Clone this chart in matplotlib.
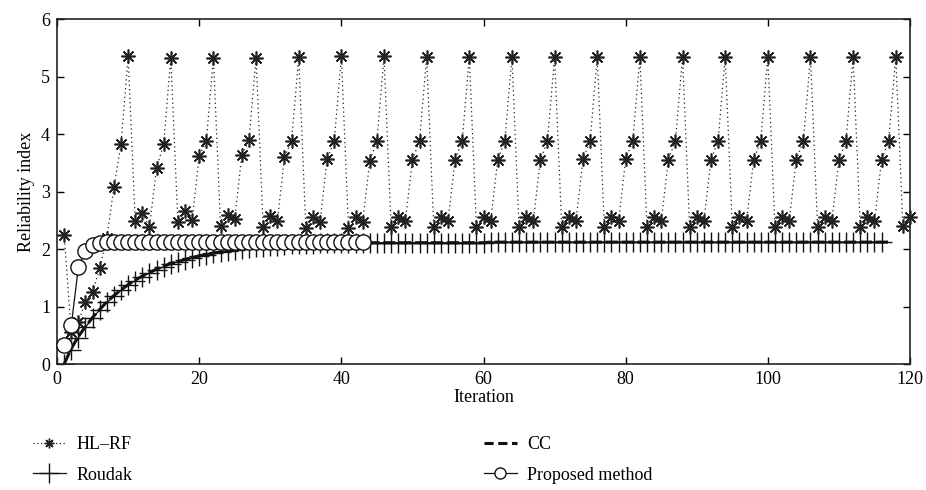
import matplotlib
matplotlib.use("Agg")
import matplotlib.pyplot as plt
from matplotlib.lines import Line2D

plt.rcParams["font.family"] = ["Liberation Serif", "DejaVu Serif"]
plt.rcParams["font.size"] = 12

# =========================
# data
# =========================
hlrf_y = [
    2.25, 0.55, 0.73, 1.08, 1.25, 1.67, 2.20, 3.07, 3.82, 5.35,
    2.48, 2.63, 2.38, 3.41, 3.82, 5.33, 2.47, 2.66, 2.50, 3.62,
    3.87, 5.33, 2.40, 2.59, 2.52, 3.64, 3.89, 5.33, 2.38, 2.57,
    2.49, 3.60, 3.88, 5.34, 2.37, 2.55, 2.47, 3.56, 3.88, 5.35,
    2.37, 2.56, 2.47, 3.53, 3.88, 5.35, 2.38, 2.56, 2.48, 3.55,
    3.88, 5.34, 2.38, 2.56, 2.48, 3.55, 3.88, 5.34, 2.38, 2.56,
    2.48, 3.55, 3.88, 5.34, 2.38, 2.56, 2.48, 3.55, 3.88, 5.34,
    2.38, 2.56, 2.48, 3.56, 3.88, 5.34, 2.38, 2.56, 2.48, 3.56,
    3.88, 5.34, 2.38, 2.56, 2.48, 3.55, 3.88, 5.34, 2.38, 2.56,
    2.48, 3.55, 3.88, 5.34, 2.38, 2.56, 2.48, 3.55, 3.88, 5.34,
    2.38, 2.56, 2.48, 3.55, 3.88, 5.34, 2.38, 2.56, 2.48, 3.55,
    3.88, 5.34, 2.38, 2.56, 2.48, 3.55, 3.88, 5.34, 2.40, 2.56,
]
hlrf_x = list(range(1, len(hlrf_y) + 1))

roudak_y = [
    0.00, 0.25, 0.46, 0.64, 0.80, 0.94, 1.07, 1.18, 1.28, 1.37,
    1.45, 1.52, 1.58, 1.64, 1.69, 1.74, 1.78, 1.81, 1.85, 1.88,
    1.90, 1.93, 1.95, 1.97, 1.99, 2.00, 2.02, 2.03, 2.04, 2.05,
    2.06, 2.07, 2.08, 2.08, 2.09, 2.09, 2.10, 2.10, 2.10, 2.11,
    2.11, 2.11, 2.11, 2.11, 2.11, 2.11, 2.11, 2.11, 2.11, 2.11,
    2.11, 2.11, 2.11, 2.11, 2.11, 2.11, 2.11, 2.11, 2.11, 2.11,
    2.12, 2.12, 2.12, 2.12, 2.12, 2.12, 2.12, 2.12, 2.12, 2.12,
    2.12, 2.12, 2.12, 2.12, 2.12, 2.12, 2.12, 2.12, 2.12, 2.12,
    2.12, 2.12, 2.12, 2.12, 2.12, 2.12, 2.12, 2.12, 2.12, 2.12,
    2.12, 2.12, 2.12, 2.12, 2.12, 2.12, 2.12, 2.12, 2.12, 2.12,
    2.12, 2.12, 2.12, 2.12, 2.12, 2.12, 2.12, 2.12, 2.12, 2.12,
    2.12, 2.12, 2.12, 2.12, 2.12, 2.12,
]
roudak_x = list(range(1, len(roudak_y) + 1))

cc_y = [
    0.00, 0.27, 0.48, 0.65, 0.81, 0.95, 1.08, 1.19, 1.29, 1.38,
    1.46, 1.53, 1.59, 1.65, 1.70, 1.75, 1.78, 1.82, 1.85, 1.88,
    1.91, 1.93, 1.95, 1.97, 1.99, 2.01, 2.02, 2.03, 2.04, 2.05,
    2.06, 2.07, 2.08, 2.08, 2.09, 2.09, 2.10, 2.10, 2.10, 2.11,
    2.11, 2.11, 2.11, 2.11, 2.11, 2.11, 2.11, 2.11, 2.11, 2.11,
    2.11, 2.11, 2.11, 2.11, 2.11, 2.11, 2.11, 2.11, 2.11, 2.11,
    2.12, 2.12, 2.12, 2.12, 2.12, 2.12, 2.12, 2.12, 2.12, 2.12,
    2.12, 2.12, 2.12, 2.12, 2.12, 2.12, 2.12, 2.12, 2.12, 2.12,
    2.12, 2.12, 2.12, 2.12, 2.12, 2.12, 2.12, 2.12, 2.12, 2.12,
    2.12, 2.12, 2.12, 2.12, 2.12, 2.12, 2.12, 2.12, 2.12, 2.12,
    2.12, 2.12, 2.12, 2.12, 2.12, 2.12, 2.12, 2.12, 2.12, 2.12,
    2.12, 2.12, 2.12, 2.12, 2.12, 2.12, 2.12,
]
cc_x = list(range(1, len(cc_y) + 1))

proposed_y = [
    0.33, 0.67, 1.68, 1.97, 2.07, 2.10, 2.12, 2.13, 2.13, 2.13,
    2.13, 2.13, 2.13, 2.13, 2.13, 2.13, 2.13, 2.13, 2.13, 2.13,
    2.13, 2.13, 2.13, 2.13, 2.13, 2.13, 2.13, 2.13, 2.13, 2.13,
    2.13, 2.13, 2.13, 2.13, 2.13, 2.13, 2.13, 2.13, 2.13, 2.13,
    2.13, 2.13, 2.13,
]
proposed_x = list(range(1, len(proposed_y) + 1))

x_ticks = [0, 20, 40, 60, 80, 100, 120]
y_ticks = [0, 1, 2, 3, 4, 5, 6]

# =========================
# plot
# =========================
fig = plt.figure(figsize=(9.26, 4.90), dpi=100)
ax = fig.add_axes([0.0616, 0.2571, 0.9211, 0.7041])

asterisk = (8, 2, 0)

ax.plot(hlrf_x, hlrf_y, color="#222222", linestyle=(0, (1, 2.5)), linewidth=0.9,
        marker=asterisk, markersize=10, markeredgewidth=1.2, zorder=3, clip_on=False)
ax.plot(roudak_x, roudak_y, color="#111111", linestyle="-", linewidth=0.9,
        marker="+", markersize=15, markeredgewidth=1.0, zorder=2)
ax.plot(cc_x, cc_y, color="#111111", linestyle=(0, (4, 1.2)), linewidth=2.2, zorder=2)
ax.plot(proposed_x, proposed_y, color="#111111", linestyle="-", linewidth=0.9,
        marker="o", markersize=11, markerfacecolor="white",
        markeredgecolor="#111111", markeredgewidth=1.0, zorder=4, clip_on=False)

ax.set_xlim(0, 120)
ax.set_ylim(0, 6)
ax.set_xticks(x_ticks)
ax.set_yticks(y_ticks)
ax.tick_params(direction="in", length=5, width=1.0, top=True, right=True, labelsize=13, pad=5)
for s in ax.spines.values():
    s.set_linewidth(1.2)
    s.set_color("#222222")

ax.set_xlabel("Iteration", fontsize=13, labelpad=1)
ax.set_ylabel("Reliability index", fontsize=13, labelpad=4)

# legend, two columns laid out under the axes
h_hlrf = Line2D([], [], color="#222222", linestyle=(0, (1, 2)), linewidth=0.9,
                marker=asterisk, markersize=7, markeredgewidth=1.0)
h_roudak = Line2D([], [], color="#111111", linestyle="-", linewidth=0.9,
                  marker="+", markersize=15, markeredgewidth=1.0)
h_cc = Line2D([], [], color="#111111", linestyle=(0, (3, 1.5)), linewidth=2.2)
h_prop = Line2D([], [], color="#111111", linestyle="-", linewidth=0.9, marker="o",
                markersize=8, markerfacecolor="white", markeredgewidth=1.0)

leg_kw = dict(frameon=False, fontsize=13, handlelength=1.8, handletextpad=0.6,
              labelspacing=0.75, borderaxespad=0, loc="upper left")
fig.legend([h_hlrf, h_roudak], ["HL\u2013RF", "Roudak"],
           bbox_to_anchor=(0.028, 0.125), **leg_kw)
fig.legend([h_cc, h_prop], ["CC", "Proposed method"],
           bbox_to_anchor=(0.515, 0.125), **leg_kw)

plt.savefig("out.png", dpi=100)
plt.close(fig)
